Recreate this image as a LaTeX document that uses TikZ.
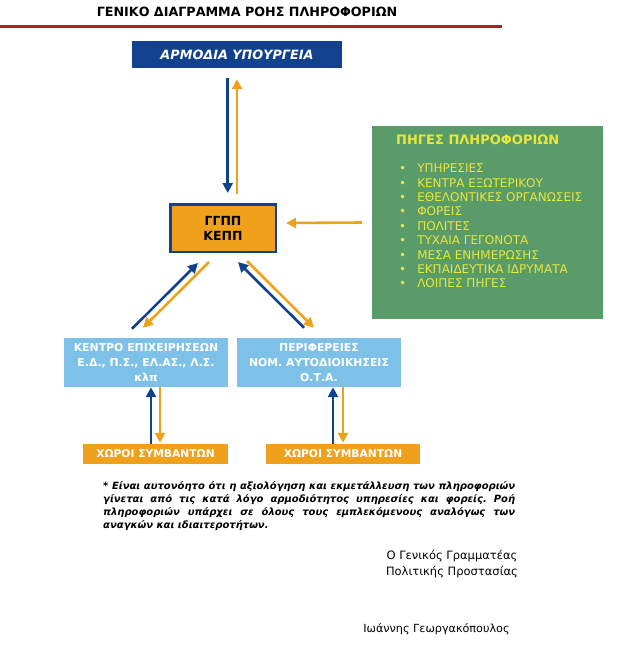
\documentclass[tikz,border=0pt]{standalone}
\usepackage{fontspec}
\setmainfont{DejaVu Sans}
\usetikzlibrary{arrows.meta}
\definecolor{dblue}{HTML}{12418E}
\definecolor{aorange}{HTML}{F0A11C}
\definecolor{agreen}{HTML}{5A9B6A}
\definecolor{ayellow}{HTML}{EAE63A}
\definecolor{lblue}{HTML}{7EC1E8}
\definecolor{dred}{HTML}{A0282A}
\tikzset{
  box/.style={inner sep=0pt, align=center, font=\fontsize{10.5}{14}\selectfont\bfseries},
  barrow/.style={draw=dblue, line width=2.6pt, -{Triangle[length=10pt,width=10pt]}},
  oarrow/.style={draw=aorange, line width=2.6pt, -{Triangle[length=10pt,width=10pt]}},
}
\begin{document}
\frenchspacing
\begin{tikzpicture}[x=1pt,y=-1pt]
\useasboundingbox[fill=white] (0,0) rectangle (626,658);
% title
\node[font=\fontsize{12.7}{15}\selectfont\bfseries] (title) at (247,12) {ΓΕΝΙΚΟ ΔΙΑΓΡΑΜΜΑ ΡΟΗΣ ΠΛΗΡΟΦΟΡΙΩΝ};
\coordinate (rl) at (0,27);
\coordinate (rr) at (502,27);
\draw[dred, line width=3pt] (rl) -- (rr);
% boxes
\node[box, fill=dblue, text=white, minimum width=210pt, minimum height=27pt, font=\fontsize{12.8}{14}\selectfont\bfseries\itshape] (min) at (237,54.5) {ΑΡΜΟΔΙΑ ΥΠΟΥΡΓΕΙΑ};
\node[box, fill=aorange, draw=dblue, line width=2.5pt, minimum width=105.5pt, minimum height=47.5pt, font=\fontsize{12.5}{15}\selectfont\bfseries] (gg) at (223,228) {ΓΓΠΠ\\ΚΕΠΠ};
\node[inner sep=0pt, fill=agreen, minimum width=231pt, minimum height=193pt] (green) at (487.5,222.5) {};
\node[anchor=west, inner sep=0pt, text=ayellow, font=\fontsize{13}{14}\selectfont\bfseries] (gt) at (396,140) {ΠΗΓΕΣ ΠΛΗΡΟΦΟΡΙΩΝ};
\node[anchor=north west, inner sep=0pt, text=ayellow, font=\fontsize{12}{14.4}\selectfont] (gl) at (399,162.5) {%
\begin{tabular}{@{}l@{\hspace{11pt}}l@{}}
•&ΥΠΗΡΕΣΙΕΣ\\
•&ΚΕΝΤΡΑ ΕΞΩΤΕΡΙΚΟΥ\\
•&ΕΘΕΛΟΝΤΙΚΕΣ ΟΡΓΑΝΩΣΕΙΣ\\
•&ΦΟΡΕΙΣ\\
•&ΠΟΛΙΤΕΣ\\
•&ΤΥΧΑΙΑ ΓΕΓΟΝΟΤΑ\\
•&ΜΕΣΑ ΕΝΗΜΕΡΩΣΗΣ\\
•&ΕΚΠΑΙΔΕΥΤΙΚΑ ΙΔΡΥΜΑΤΑ\\
•&ΛΟΙΠΕΣ ΠΗΓΕΣ
\end{tabular}};
\node[box, fill=lblue, text=white, minimum width=164pt, minimum height=49pt, font=\fontsize{10.9}{14.8}\selectfont\bfseries] (lbL) at (146,362.5) {ΚΕΝΤΡΟ ΕΠΙΧΕΙΡΗΣΕΩΝ\\Ε.Δ., Π.Σ., ΕΛ.ΑΣ., Λ.Σ.\\κλπ};
\node[box, fill=lblue, text=white, minimum width=164pt, minimum height=49pt, font=\fontsize{10.9}{14.8}\selectfont\bfseries] (lbR) at (319,362.5) {ΠΕΡΙΦΕΡΕΙΕΣ\\ΝΟΜ. ΑΥΤΟΔΙΟΙΚΗΣΕΙΣ\\Ο.Τ.Α.};
\node[box, fill=aorange, text=white, minimum width=145pt, minimum height=20pt, font=\fontsize{10.7}{12}\selectfont\bfseries] (oL) at (155.5,454) {ΧΩΡΟΙ ΣΥΜΒΑΝΤΩΝ};
\node[box, fill=aorange, text=white, minimum width=154pt, minimum height=20pt, font=\fontsize{10.7}{12}\selectfont\bfseries] (oR) at (343,454) {ΧΩΡΟΙ ΣΥΜΒΑΝΤΩΝ};
% arrows top
\draw[barrow] ([xshift=-9.3pt,yshift=-10pt]min.south) -- ([xshift=4.7pt,yshift=10pt]gg.north);
\draw[oarrow] ([xshift=14pt,yshift=9pt]gg.north) -- ([xshift=0pt,yshift=-11pt]min.south);
% green arrow
\draw[oarrow] ([xshift=-10pt]green.west) -- ([xshift=9pt,yshift=5pt]gg.east);
% diagonals
\draw[barrow] ([xshift=-14pt,yshift=9pt]lbL.north) -- ([xshift=-25pt,yshift=-10pt]gg.south);
\draw[oarrow] ([xshift=-14pt,yshift=-9pt]gg.south) -- ([xshift=-3pt,yshift=10pt]lbL.north);
\draw[barrow] ([xshift=-15pt,yshift=10pt]lbR.north) -- ([xshift=15pt,yshift=-9pt]gg.south);
\draw[oarrow] ([xshift=24pt,yshift=-8pt]gg.south) -- ([xshift=-5pt,yshift=10pt]lbR.north);
% bottom
\draw[barrow] ([xshift=5pt]lbL.south |- oL.north) -- ([xshift=5pt]lbL.south);
\draw[oarrow] ([xshift=14pt]lbL.south) -- ([xshift=14pt,yshift=1pt]lbL.south |- oL.north);
\draw[barrow] ([xshift=14pt]lbR.south |- oR.north) -- ([xshift=14pt]lbR.south);
\draw[oarrow] ([xshift=24pt]lbR.south) -- ([xshift=24pt,yshift=1pt]lbR.south |- oR.north);
% footnote
\node[anchor=north west, inner sep=0pt, text width=412pt, align=justify, font=\fontsize{10}{13.2}\selectfont\bfseries\itshape] (fn) at (103,481) {\hyphenpenalty=10000 * Είναι αυτονόητο ότι η αξιολόγηση και εκμετάλλευση των πληροφοριών\linebreak γίνεται από τις κατά λόγο αρμοδιότητος υπηρεσίες και φορείς. Ροή\linebreak πληροφοριών υπάρχει σε όλους τους εμπλεκόμενους αναλόγως των\linebreak αναγκών και ιδιαιτεροτήτων.};
% signature
\node[inner sep=0pt, align=center, font=\fontsize{11.5}{16}\selectfont] (sig) at (452,564) {Ο Γενικός Γραμματέας\\Πολιτικής Προστασίας};
\node[inner sep=0pt, font=\fontsize{11.2}{12}\selectfont] (name) at (436.5,629) {Ιωάννης Γεωργακόπουλος};
\end{tikzpicture}
\end{document}
